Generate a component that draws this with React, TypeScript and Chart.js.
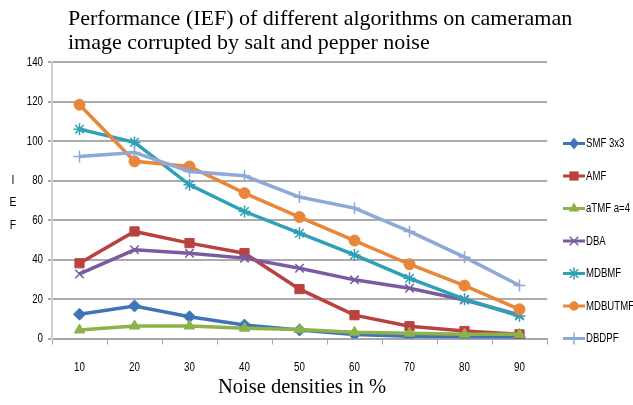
import React, { useEffect, useRef } from "react";
import { Chart, registerables } from "chart.js";

Chart.register(...registerables);

const categories = ["10", "20", "30", "40", "50", "60", "70", "80", "90"];
const seriesNames = ["SMF 3x3", "AMF", "aTMF a=4", "DBA", "MDBMF", "MDBUTMF", "DBDPF"];
const smf = [12.3, 16.5, 11, 6.8, 4.3, 2, 1.2, 0.9, 0.6];
const amf = [38.1, 54.2, 48.3, 43.2, 25, 11.8, 6.2, 3.8, 2.1];
const atmf = [4.3, 6.3, 6.3, 5.2, 4.6, 3.2, 2.7, 2.2, 2.1];
const dba = [32.7, 44.9, 43.2, 40.7, 35.6, 29.7, 25.4, 19.5, 11.9];
const mdbmf = [106, 99.3, 77.8, 64.3, 53.3, 42.3, 30.5, 19.9, 11.4];
const mdbutmf = [118.4, 89.7, 87.1, 73.6, 61.5, 49.6, 37.6, 26.8, 14.8];
const dbdpf = [92.2, 94.2, 84.6, 82.4, 71.6, 66, 54.2, 41.2, 26.8];
const yTicks = [0, 20, 40, 60, 80, 100, 120, 140];

const titleLines = [
  "Performance (IEF) of different algorithms on cameraman",
  "image corrupted by salt and pepper noise",
];
const xTitle = "Noise densities in %";
const yTitleLetters = ["I", "E", "F"];

const colors = ["#3F74B7", "#B9423F", "#8DB24A", "#7A5BA0", "#2FA0B6", "#E8863A", "#8EA8D8"];
const styles = ["rectRot", "rect", "triangle", "crossRot", "star", "circle", "cross"];
const radii = [6, 6.5, 6, 6, 6, 5.5, 6];
const allData = [smf, amf, atmf, dba, mdbmf, mdbutmf, dbdpf];

const SANS = "'Liberation Sans', Arial, sans-serif";
const SERIF = "'Liberation Serif', 'Times New Roman', serif";

function narrowText(ctx: CanvasRenderingContext2D, text: string, x: number, y: number, align: "left" | "right" | "center", sx = 0.76) {
  ctx.save();
  ctx.translate(x, y);
  ctx.scale(sx, 1);
  ctx.textAlign = align;
  ctx.textBaseline = "middle";
  ctx.fillText(text, 0, 0);
  ctx.restore();
}

function drawMarker(ctx: CanvasRenderingContext2D, style: string, x: number, y: number, r: number, color: string) {
  ctx.save();
  ctx.fillStyle = color;
  ctx.strokeStyle = color;
  ctx.lineWidth = 1.5;
  ctx.beginPath();
  if (style === "rectRot") {
    ctx.moveTo(x, y - r);
    ctx.lineTo(x + r * 0.8, y);
    ctx.lineTo(x, y + r);
    ctx.lineTo(x - r * 0.8, y);
    ctx.closePath();
    ctx.fill();
  } else if (style === "rect") {
    const s = r * 0.707;
    ctx.rect(x - s, y - s, 2 * s, 2 * s);
    ctx.fill();
  } else if (style === "triangle") {
    ctx.moveTo(x, y - r);
    ctx.lineTo(x + r * 0.87, y + r * 0.5);
    ctx.lineTo(x - r * 0.87, y + r * 0.5);
    ctx.closePath();
    ctx.fill();
  } else if (style === "circle") {
    ctx.arc(x, y, r * 0.85, 0, Math.PI * 2);
    ctx.fill();
  } else if (style === "crossRot") {
    const s = r * 0.707;
    ctx.moveTo(x - s, y - s); ctx.lineTo(x + s, y + s);
    ctx.moveTo(x + s, y - s); ctx.lineTo(x - s, y + s);
    ctx.stroke();
  } else if (style === "star") {
    const s = r * 0.707;
    ctx.moveTo(x - s, y - s); ctx.lineTo(x + s, y + s);
    ctx.moveTo(x + s, y - s); ctx.lineTo(x - s, y + s);
    ctx.moveTo(x, y - r); ctx.lineTo(x, y + r);
    ctx.stroke();
  } else if (style === "cross") {
    ctx.moveTo(x, y - r); ctx.lineTo(x, y + r);
    ctx.stroke();
  }
  ctx.restore();
}

const decorPlugin = {
  id: "decor",
  afterDraw(chart: any) {
    const ctx = chart.ctx as CanvasRenderingContext2D;
    const xs = chart.scales.x;
    const ysc = chart.scales.y;
    ctx.save();
    // title
    ctx.fillStyle = "#000";
    ctx.font = `22px ${SERIF}`;
    ctx.textAlign = "left";
    ctx.textBaseline = "alphabetic";
    ctx.fillText(titleLines[0], 68, 25);
    ctx.fillText(titleLines[1], 68, 49);
    // x title
    ctx.font = `20.5px ${SERIF}`;
    ctx.textAlign = "center";
    ctx.fillText(xTitle, 302, 393);
    // tick labels
    ctx.font = `13px ${SANS}`;
    categories.forEach((c, i) => {
      narrowText(ctx, c, xs.getPixelForValue(i), 367, "center", 0.75);
    });
    yTicks.forEach((v) => {
      narrowText(ctx, String(v), 43, ysc.getPixelForValue(v), "right", 0.75);
    });
    // y title letters
    ctx.font = `13px ${SANS}`;
    const yy = [180, 202, 225];
    yTitleLetters.forEach((l, i) => narrowText(ctx, l, 13, yy[i], "center", 0.8));
    // legend
    const ly0 = 143.5;
    const step = 32.5;
    chart.data.datasets.forEach((ds: any, i: number) => {
      const y = ly0 + i * step;
      ctx.strokeStyle = colors[i];
      ctx.lineWidth = 3;
      ctx.beginPath();
      ctx.moveTo(563, y);
      ctx.lineTo(585, y);
      ctx.stroke();
      drawMarker(ctx, styles[i], 574, y, radii[i], colors[i]);
      ctx.fillStyle = "#000";
      ctx.font = `12px ${SANS}`;
      narrowText(ctx, ds.label, 586, y + 0.5, "left", 0.8);
    });
    ctx.restore();
  },
};

export default function App() {
  const ref = useRef<HTMLCanvasElement | null>(null);
  useEffect(() => {
    if (!ref.current) return;
    const chart = new Chart(ref.current, {
      type: "line",
      data: {
        labels: categories,
        datasets: allData.map((d, i) => ({
          label: seriesNames[i],
          data: d,
          borderColor: colors[i],
          backgroundColor: colors[i],
          borderWidth: 3.5,
          pointStyle: styles[i] as any,
          pointRadius: radii[i],
          pointBorderWidth: styles[i] === "crossRot" || styles[i] === "star" || styles[i] === "cross" ? 1.5 : 1,
          pointBorderColor: colors[i],
          pointBackgroundColor: colors[i],
          tension: 0,
          fill: false,
          order: 7 - i,
        })),
      },
      options: {
        responsive: false,
        animation: false,
        layout: { padding: { top: 62, right: 86, left: 0, bottom: 0 } },
        plugins: {
          legend: { display: false },
          title: { display: false },
          tooltip: { enabled: false },
        },
        scales: {
          x: {
            type: "category",
            offset: true,
            grid: {
              offset: true,
              drawOnChartArea: false,
              drawTicks: true,
              tickLength: 6,
              color: "#A6A6A6",
              lineWidth: 1,
            },
            border: { color: "#A6A6A6", width: 2 },
            ticks: { display: false, maxRotation: 0 },
            afterFit(scale: any) {
              scale.height = 66.5;
            },
          },
          y: {
            min: 0,
            max: 140,
            afterBuildTicks(scale: any) {
              scale.ticks = yTicks.map((v) => ({ value: v }));
            },
            grid: {
              color: "#ABABAB",
              lineWidth: 2,
              tickLength: 4,
              drawTicks: true,
            },
            border: { color: "#CFCFCF", width: 2 },
            ticks: { display: false },
            afterFit(scale: any) {
              scale.width = 52;
            },
          },
        },
      },
      plugins: [decorPlugin],
    });
    return () => chart.destroy();
  }, []);
  return (
    <canvas
      ref={ref}
      width={633}
      height={405}
      style={{ position: "fixed", left: 0, top: 0, width: 633, height: 405, background: "#fff" }}
    />
  );
}
